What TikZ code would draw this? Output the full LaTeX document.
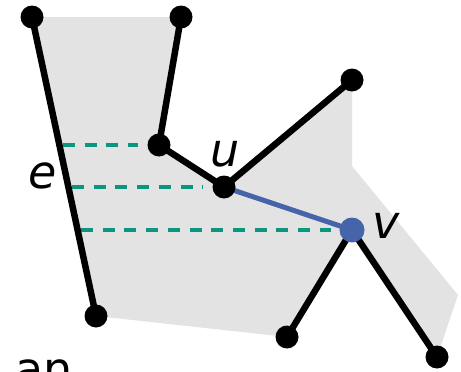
\documentclass[tikz,border=0pt]{standalone}
\usepackage{fontspec}
\setmainfont{DejaVu Sans}
\usetikzlibrary{positioning}
\definecolor{regionfill}{RGB}{227,227,227}
\definecolor{sweepink}{RGB}{12,150,128}
\definecolor{edgeblue}{RGB}{70,100,170}

\begin{document}
\begin{tikzpicture}[x=1pt,y=-1pt,font=\fontsize{46}{50}\selectfont,
  dot/.style={circle,fill=black,inner sep=0pt,minimum size=23pt},
  seg/.style={line width=6.5pt},
  sweep/.style={sweepink,line width=3.5pt,dash pattern=on 12pt off 9.7pt,shorten >=21pt}]
\useasboundingbox (0,0) rectangle (461,372);
% vertices
\coordinate (a) at (32,17);
\coordinate (b) at (181,17);
\coordinate (c) at (159,145);
\coordinate (u) at (224,187);
\coordinate (d) at (352,80);
\coordinate (v) at (352,230);
\coordinate (f) at (96,316);
\coordinate (g) at (287,337);
\coordinate (h) at (437,357);
% visible region
\fill[regionfill] (a) -- (b) -- (c) -- (u) -- (d) -- (352,166) -- (458,295)
  -- (h) -- (v) -- (g) -- (f) -- cycle;
% rays hitting e
\coordinate (e1) at (63,145);
\coordinate (e2) at (72,187);
\coordinate (e3) at (81,230);
\draw[sweep] (e1) -- (c);
\draw[sweep] (e2) -- (u);
\draw[sweep] (e3) -- (v);
% edges
\draw[seg] (a) -- (f);
\draw[seg] (b) -- (c);
\draw[seg] (c) -- (u);
\draw[seg] (u) -- (d);
\draw[seg] (v) -- (g);
\draw[seg] (v) -- (h);
\draw[edgeblue,line width=5pt] (u) -- (v);
\foreach \p in {a,b,c,u,d,f,g,h} \node[dot] (n\p) at (\p) {};
\node[dot,fill=edgeblue,minimum size=25pt] (nv) at (v) {};
% labels
\node[inner sep=0pt] (le) at (43,176) {\textit{e}};
\node[inner sep=0pt] (lu) at (225,154) {\textit{u}};
\node[inner sep=0pt] (lv) at (386,226) {\textit{v}};
\node[anchor=base west,inner sep=0pt] (cap) at (15,385) {an};
\end{tikzpicture}
\end{document}
